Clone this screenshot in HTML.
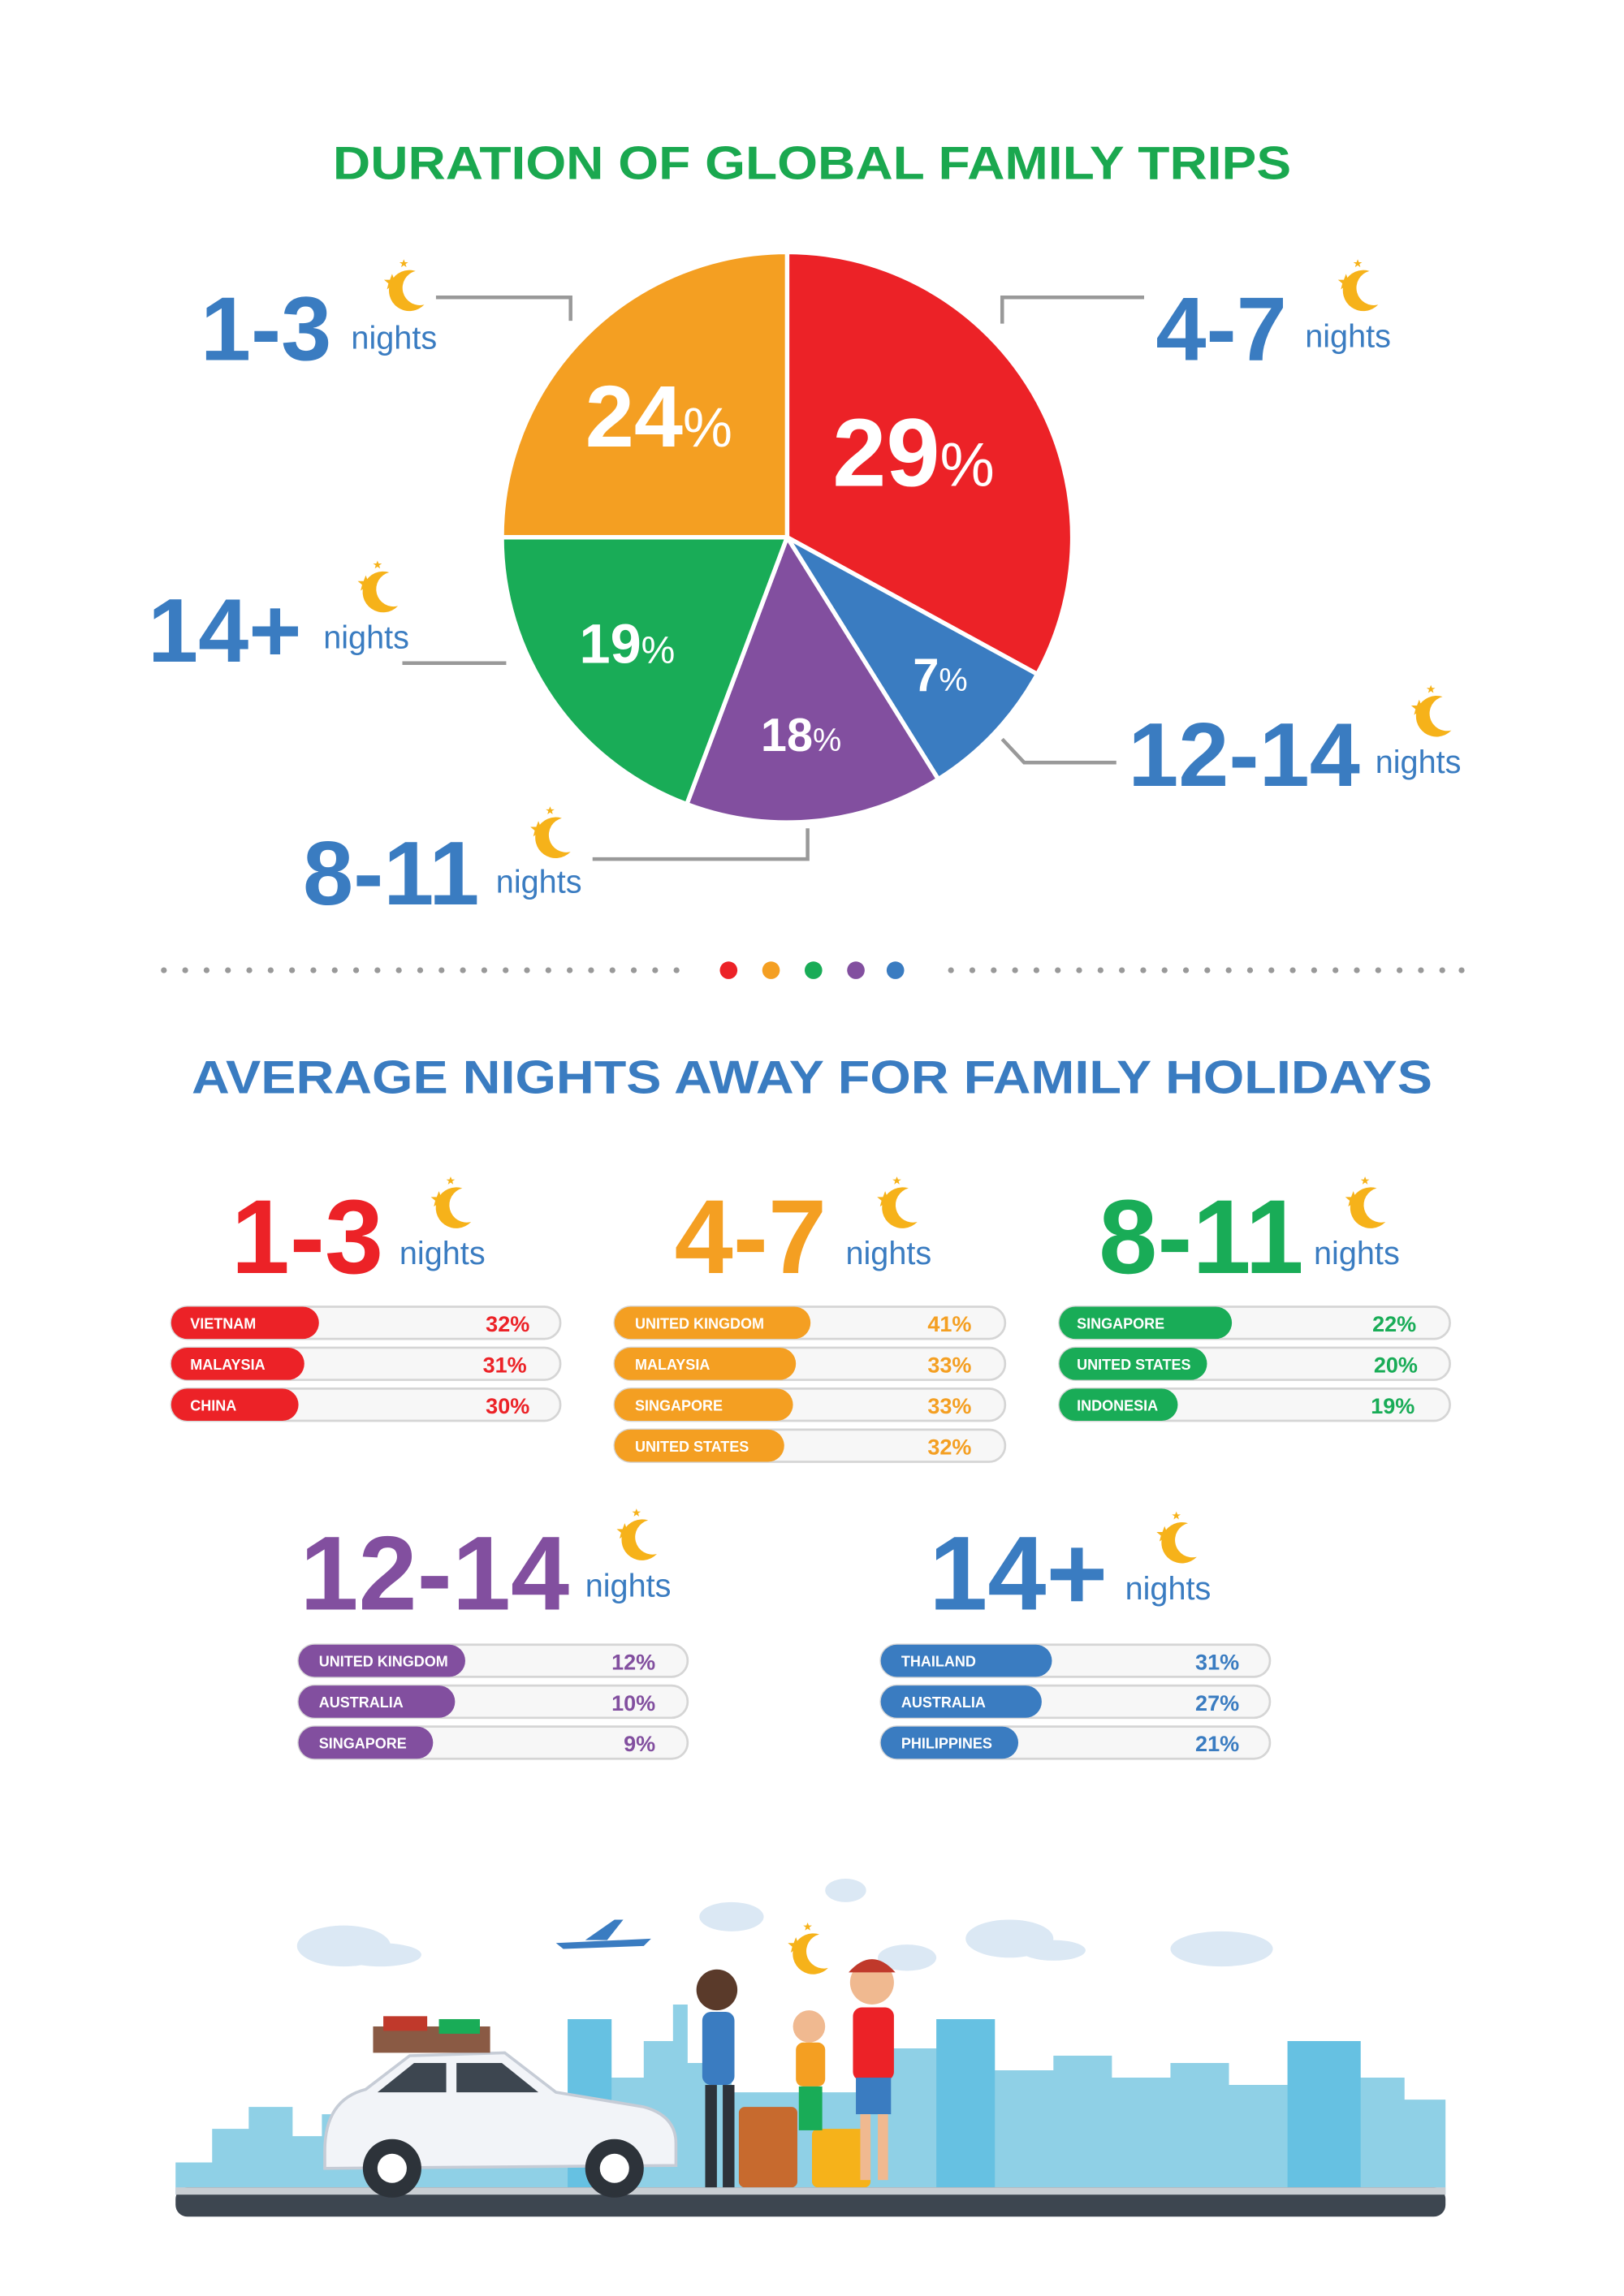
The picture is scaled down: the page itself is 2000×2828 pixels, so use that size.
<!DOCTYPE html>
<html><head><meta charset="utf-8"><style>
html,body{margin:0;padding:0;background:#fff;}
svg{display:block;}
text{font-family:"Liberation Sans",sans-serif;}
</style></head><body>
<svg width="2000" height="2828" viewBox="0 0 1110 1569" xmlns="http://www.w3.org/2000/svg" font-weight="bold">
<defs>
<g id="moon">
<path d="M4,-13 A14,14 0 1,0 10,10 A11,11 0 1,1 4,-13 Z" fill="#f6b21a"/>
<polygon points="-12,-11 -10.5,-7 -6.5,-7 -9.5,-4.5 -8.5,-0.5 -12,-3 -15.5,-0.5 -14.5,-4.5 -17.5,-7 -13.5,-7" fill="#f6b21a"/>
<polygon points="-4,-21 -3.2,-19 -1,-19 -2.8,-17.8 -2.2,-15.6 -4,-16.9 -5.8,-15.6 -5.2,-17.8 -7,-19 -4.8,-19" fill="#f6b21a"/>
</g>
</defs>

<text x="555" y="122" text-anchor="middle" font-size="32" fill="#1aa84f" textLength="655" lengthAdjust="spacingAndGlyphs">DURATION OF GLOBAL FAMILY TRIPS</text>

<g stroke="#fff" stroke-width="3" stroke-linejoin="round">
<path d="M538,367 L538,172 A195,195 0 0,1 709,460.6 Z" fill="#ec2227"/>
<path d="M538,367 L709,460.6 A195,195 0 0,1 641.3,532.4 Z" fill="#3a7cc1"/>
<path d="M538,367 L641.3,532.4 A195,195 0 0,1 469.4,549.5 Z" fill="#824f9f"/>
<path d="M538,367 L469.4,549.5 A195,195 0 0,1 343,367 Z" fill="#19ac57"/>
<path d="M538,367 L343,367 A195,195 0 0,1 538,172 Z" fill="#f49f22"/>
</g>
<text x="569" y="332" font-size="66" fill="#fff">29<tspan font-size="42" font-weight="normal">%</tspan></text>
<text x="400" y="305" font-size="60" fill="#fff">24<tspan font-size="38" font-weight="normal">%</tspan></text>
<text x="396" y="453" font-size="38" fill="#fff">19<tspan font-size="26" font-weight="normal">%</tspan></text>
<text x="624" y="472" font-size="32" fill="#fff">7<tspan font-size="22" font-weight="normal">%</tspan></text>
<text x="520" y="513" font-size="32" fill="#fff">18<tspan font-size="22" font-weight="normal">%</tspan></text>

<g fill="none" stroke="#999" stroke-width="2.5">
<polyline points="298,203 390,203 390,219"/>
<polyline points="782,203 685,203 685,221"/>
<polyline points="275,453 346,453"/>
<polyline points="685,505 700,521 763,521"/>
<polyline points="405,587 552,587 552,566"/>
</g>

<g fill="#3a7cc1">
<text x="137" y="246" font-size="62">1-3</text>
<text x="240" y="238" font-size="22" font-weight="normal">nights</text>
<text x="790" y="246" font-size="62">4-7</text>
<text x="892" y="237" font-size="22" font-weight="normal">nights</text>
<text x="101" y="452" font-size="62">14+</text>
<text x="221" y="443" font-size="22" font-weight="normal">nights</text>
<text x="771" y="537" font-size="62">12-14</text>
<text x="940" y="528" font-size="22" font-weight="normal">nights</text>
<text x="207" y="618" font-size="62">8-11</text>
<text x="339" y="610" font-size="22" font-weight="normal">nights</text>
</g>
<use href="#moon" x="280" y="198"/>
<use href="#moon" x="932" y="198"/>
<use href="#moon" x="262" y="404"/>
<use href="#moon" x="982" y="489"/>
<use href="#moon" x="380" y="572"/>

<g fill="#999">
<circle cx="112" cy="663" r="2"/><circle cx="126.6" cy="663" r="2"/><circle cx="141.2" cy="663" r="2"/><circle cx="155.8" cy="663" r="2"/><circle cx="170.4" cy="663" r="2"/><circle cx="185" cy="663" r="2"/><circle cx="199.6" cy="663" r="2"/><circle cx="214.2" cy="663" r="2"/><circle cx="228.8" cy="663" r="2"/><circle cx="243.4" cy="663" r="2"/><circle cx="258" cy="663" r="2"/><circle cx="272.6" cy="663" r="2"/><circle cx="287.2" cy="663" r="2"/><circle cx="301.8" cy="663" r="2"/><circle cx="316.4" cy="663" r="2"/><circle cx="331" cy="663" r="2"/><circle cx="345.6" cy="663" r="2"/><circle cx="360.2" cy="663" r="2"/><circle cx="374.8" cy="663" r="2"/><circle cx="389.4" cy="663" r="2"/><circle cx="404" cy="663" r="2"/><circle cx="418.6" cy="663" r="2"/><circle cx="433.2" cy="663" r="2"/><circle cx="447.8" cy="663" r="2"/><circle cx="462.4" cy="663" r="2"/>
<circle cx="650" cy="663" r="2"/><circle cx="664.6" cy="663" r="2"/><circle cx="679.2" cy="663" r="2"/><circle cx="693.8" cy="663" r="2"/><circle cx="708.4" cy="663" r="2"/><circle cx="723" cy="663" r="2"/><circle cx="737.6" cy="663" r="2"/><circle cx="752.2" cy="663" r="2"/><circle cx="766.8" cy="663" r="2"/><circle cx="781.4" cy="663" r="2"/><circle cx="796" cy="663" r="2"/><circle cx="810.6" cy="663" r="2"/><circle cx="825.2" cy="663" r="2"/><circle cx="839.8" cy="663" r="2"/><circle cx="854.4" cy="663" r="2"/><circle cx="869" cy="663" r="2"/><circle cx="883.6" cy="663" r="2"/><circle cx="898.2" cy="663" r="2"/><circle cx="912.8" cy="663" r="2"/><circle cx="927.4" cy="663" r="2"/><circle cx="942" cy="663" r="2"/><circle cx="956.6" cy="663" r="2"/><circle cx="971.2" cy="663" r="2"/><circle cx="985.8" cy="663" r="2"/><circle cx="999" cy="663" r="2"/>
</g>
<circle cx="498" cy="663" r="6" fill="#ec2227"/>
<circle cx="527" cy="663" r="6" fill="#f49f22"/>
<circle cx="556" cy="663" r="6" fill="#19ac57"/>
<circle cx="585" cy="663" r="6" fill="#824f9f"/>
<circle cx="612" cy="663" r="6" fill="#3a7cc1"/>

<text x="555" y="747" text-anchor="middle" font-size="32" fill="#3a7cc1" textLength="848" lengthAdjust="spacingAndGlyphs">AVERAGE NIGHTS AWAY FOR FAMILY HOLIDAYS</text>

<text x="158" y="870" font-size="72" fill="#ec2227">1-3</text>
<text x="273" y="864" font-size="22" font-weight="normal" fill="#3a7cc1">nights</text>
<use href="#moon" x="312" y="825"/>
<text x="461" y="870" font-size="72" fill="#f49f22">4-7</text>
<text x="578" y="864" font-size="22" font-weight="normal" fill="#3a7cc1">nights</text>
<use href="#moon" x="617" y="825"/>
<text x="751" y="870" font-size="72" fill="#19ac57">8-11</text>
<text x="898" y="864" font-size="22" font-weight="normal" fill="#3a7cc1">nights</text>
<use href="#moon" x="937" y="825"/>
<text x="205" y="1100" font-size="72" fill="#824f9f">12-14</text>
<text x="400" y="1091" font-size="22" font-weight="normal" fill="#3a7cc1">nights</text>
<use href="#moon" x="439" y="1052"/>
<text x="635" y="1100" font-size="72" fill="#3a7cc1">14+</text>
<text x="769" y="1093" font-size="22" font-weight="normal" fill="#3a7cc1">nights</text>
<use href="#moon" x="808" y="1054"/>

<g>
<rect x="117" y="893" width="266" height="22" rx="11" fill="#f7f7f7" stroke="#d5d5d5" stroke-width="1.5"/>
<rect x="117" y="893" width="101" height="22" rx="11" fill="#ec2227"/>
<text x="130" y="908" font-size="10" fill="#fff">VIETNAM</text>
<text x="362" y="910" font-size="15" fill="#ec2227" text-anchor="end">32%</text>
<rect x="117" y="921" width="266" height="22" rx="11" fill="#f7f7f7" stroke="#d5d5d5" stroke-width="1.5"/>
<rect x="117" y="921" width="91" height="22" rx="11" fill="#ec2227"/>
<text x="130" y="936" font-size="10" fill="#fff">MALAYSIA</text>
<text x="360" y="938" font-size="15" fill="#ec2227" text-anchor="end">31%</text>
<rect x="117" y="949" width="266" height="22" rx="11" fill="#f7f7f7" stroke="#d5d5d5" stroke-width="1.5"/>
<rect x="117" y="949" width="87" height="22" rx="11" fill="#ec2227"/>
<text x="130" y="964" font-size="10" fill="#fff">CHINA</text>
<text x="362" y="966" font-size="15" fill="#ec2227" text-anchor="end">30%</text>

<rect x="420" y="893" width="267" height="22" rx="11" fill="#f7f7f7" stroke="#d5d5d5" stroke-width="1.5"/>
<rect x="420" y="893" width="134" height="22" rx="11" fill="#f49f22"/>
<text x="434" y="908" font-size="10" fill="#fff">UNITED KINGDOM</text>
<text x="664" y="910" font-size="15" fill="#f49f22" text-anchor="end">41%</text>
<rect x="420" y="921" width="267" height="22" rx="11" fill="#f7f7f7" stroke="#d5d5d5" stroke-width="1.5"/>
<rect x="420" y="921" width="124" height="22" rx="11" fill="#f49f22"/>
<text x="434" y="936" font-size="10" fill="#fff">MALAYSIA</text>
<text x="664" y="938" font-size="15" fill="#f49f22" text-anchor="end">33%</text>
<rect x="420" y="949" width="267" height="22" rx="11" fill="#f7f7f7" stroke="#d5d5d5" stroke-width="1.5"/>
<rect x="420" y="949" width="122" height="22" rx="11" fill="#f49f22"/>
<text x="434" y="964" font-size="10" fill="#fff">SINGAPORE</text>
<text x="664" y="966" font-size="15" fill="#f49f22" text-anchor="end">33%</text>
<rect x="420" y="977" width="267" height="22" rx="11" fill="#f7f7f7" stroke="#d5d5d5" stroke-width="1.5"/>
<rect x="420" y="977" width="116" height="22" rx="11" fill="#f49f22"/>
<text x="434" y="992" font-size="10" fill="#fff">UNITED STATES</text>
<text x="664" y="994" font-size="15" fill="#f49f22" text-anchor="end">32%</text>

<rect x="724" y="893" width="267" height="22" rx="11" fill="#f7f7f7" stroke="#d5d5d5" stroke-width="1.5"/>
<rect x="724" y="893" width="118" height="22" rx="11" fill="#19ac57"/>
<text x="736" y="908" font-size="10" fill="#fff">SINGAPORE</text>
<text x="968" y="910" font-size="15" fill="#19ac57" text-anchor="end">22%</text>
<rect x="724" y="921" width="267" height="22" rx="11" fill="#f7f7f7" stroke="#d5d5d5" stroke-width="1.5"/>
<rect x="724" y="921" width="101" height="22" rx="11" fill="#19ac57"/>
<text x="736" y="936" font-size="10" fill="#fff">UNITED STATES</text>
<text x="969" y="938" font-size="15" fill="#19ac57" text-anchor="end">20%</text>
<rect x="724" y="949" width="267" height="22" rx="11" fill="#f7f7f7" stroke="#d5d5d5" stroke-width="1.5"/>
<rect x="724" y="949" width="81" height="22" rx="11" fill="#19ac57"/>
<text x="736" y="964" font-size="10" fill="#fff">INDONESIA</text>
<text x="967" y="966" font-size="15" fill="#19ac57" text-anchor="end">19%</text>

<rect x="204" y="1124" width="266" height="22" rx="11" fill="#f7f7f7" stroke="#d5d5d5" stroke-width="1.5"/>
<rect x="204" y="1124" width="114" height="22" rx="11" fill="#824f9f"/>
<text x="218" y="1139" font-size="10" fill="#fff">UNITED KINGDOM</text>
<text x="448" y="1141" font-size="15" fill="#824f9f" text-anchor="end">12%</text>
<rect x="204" y="1152" width="266" height="22" rx="11" fill="#f7f7f7" stroke="#d5d5d5" stroke-width="1.5"/>
<rect x="204" y="1152" width="107" height="22" rx="11" fill="#824f9f"/>
<text x="218" y="1167" font-size="10" fill="#fff">AUSTRALIA</text>
<text x="448" y="1169" font-size="15" fill="#824f9f" text-anchor="end">10%</text>
<rect x="204" y="1180" width="266" height="22" rx="11" fill="#f7f7f7" stroke="#d5d5d5" stroke-width="1.5"/>
<rect x="204" y="1180" width="92" height="22" rx="11" fill="#824f9f"/>
<text x="218" y="1195" font-size="10" fill="#fff">SINGAPORE</text>
<text x="448" y="1197" font-size="15" fill="#824f9f" text-anchor="end">9%</text>

<rect x="602" y="1124" width="266" height="22" rx="11" fill="#f7f7f7" stroke="#d5d5d5" stroke-width="1.5"/>
<rect x="602" y="1124" width="117" height="22" rx="11" fill="#3a7cc1"/>
<text x="616" y="1139" font-size="10" fill="#fff">THAILAND</text>
<text x="847" y="1141" font-size="15" fill="#3a7cc1" text-anchor="end">31%</text>
<rect x="602" y="1152" width="266" height="22" rx="11" fill="#f7f7f7" stroke="#d5d5d5" stroke-width="1.5"/>
<rect x="602" y="1152" width="110" height="22" rx="11" fill="#3a7cc1"/>
<text x="616" y="1167" font-size="10" fill="#fff">AUSTRALIA</text>
<text x="847" y="1169" font-size="15" fill="#3a7cc1" text-anchor="end">27%</text>
<rect x="602" y="1180" width="266" height="22" rx="11" fill="#f7f7f7" stroke="#d5d5d5" stroke-width="1.5"/>
<rect x="602" y="1180" width="94" height="22" rx="11" fill="#3a7cc1"/>
<text x="616" y="1195" font-size="10" fill="#fff">PHILIPPINES</text>
<text x="847" y="1197" font-size="15" fill="#3a7cc1" text-anchor="end">21%</text>
</g>

<g fill="#dbe8f4">
<ellipse cx="235" cy="1330" rx="32" ry="14"/><ellipse cx="260" cy="1336" rx="28" ry="8"/>
<ellipse cx="500" cy="1310" rx="22" ry="10"/>
<ellipse cx="578" cy="1292" rx="14" ry="8"/>
<ellipse cx="690" cy="1325" rx="30" ry="13"/><ellipse cx="720" cy="1333" rx="22" ry="7"/>
<ellipse cx="835" cy="1332" rx="35" ry="12"/>
<ellipse cx="620" cy="1338" rx="20" ry="9"/>
</g>
<path d="M380,1328 L445,1325 L440,1330 L385,1332Z M400,1326 L420,1312 L426,1312 L415,1326Z" fill="#3a7cc1"/>
<path d="M120,1500 L120,1478 L145,1478 L145,1455 L170,1455 L170,1440 L200,1440 L200,1460 L220,1460 L220,1445 L250,1445 L250,1470 L290,1470 L290,1440 L330,1440 L330,1420 L365,1420 L365,1450 L388,1450 L388,1380 L418,1380 L418,1420 L440,1420 L440,1395 L460,1395 L460,1370 L470,1370 L470,1410 L500,1410 L500,1430 L600,1430 L600,1400 L640,1400 L640,1380 L680,1380 L680,1415 L720,1415 L720,1405 L760,1405 L760,1420 L800,1420 L800,1410 L840,1410 L840,1425 L880,1425 L880,1395 L930,1395 L930,1420 L960,1420 L960,1435 L988,1435 L988,1500 Z" fill="#8fd0e6"/>
<path d="M388,1380 h30 v120 h-30z M640,1380 h40 v120 h-40z M880,1395 h50 v105 h-50z" fill="#4bb8e0" opacity="0.6"/>
<rect x="120" y="1495" width="868" height="20" rx="8" fill="#3d4650"/>
<rect x="120" y="1495" width="868" height="5" fill="#c9ced3"/>
<path d="M222,1470 Q222,1435 250,1428 L280,1405 L345,1403 L380,1430 L440,1440 Q462,1446 462,1465 L462,1480 L222,1482 Z" fill="#f2f4f8" stroke="#c6ccd6" stroke-width="2"/>
<path d="M258,1430 L283,1410 L305,1410 L305,1430 Z M312,1410 L343,1410 L368,1430 L312,1430 Z" fill="#3d4650"/>
<rect x="255" y="1385" width="80" height="18" fill="#8a5a44"/>
<rect x="262" y="1378" width="30" height="10" fill="#c0392b"/>
<rect x="300" y="1380" width="28" height="10" fill="#19ac57"/>
<circle cx="268" cy="1482" r="20" fill="#2d333a"/><circle cx="268" cy="1482" r="10" fill="#fff"/>
<circle cx="420" cy="1482" r="20" fill="#2d333a"/><circle cx="420" cy="1482" r="10" fill="#fff"/>
<rect x="505" y="1440" width="40" height="55" rx="4" fill="#c76a2e"/>
<rect x="555" y="1455" width="40" height="40" rx="4" fill="#f6b21a"/>
<circle cx="490" cy="1360" r="14" fill="#5a3a2a"/>
<rect x="480" y="1375" width="22" height="50" rx="6" fill="#3a7cc1"/>
<rect x="482" y="1425" width="8" height="70" fill="#2d333a"/><rect x="494" y="1425" width="8" height="70" fill="#2d333a"/>
<circle cx="596" cy="1355" r="15" fill="#f0b990"/>
<path d="M580,1348 Q596,1330 612,1348 Z" fill="#c0392b"/>
<rect x="583" y="1372" width="28" height="50" rx="6" fill="#ec2227"/>
<rect x="585" y="1420" width="24" height="25" fill="#3a7cc1"/>
<rect x="588" y="1445" width="7" height="45" fill="#f0b990"/><rect x="600" y="1445" width="7" height="45" fill="#f0b990"/>
<circle cx="553" cy="1385" r="11" fill="#f0b990"/>
<rect x="544" y="1396" width="20" height="30" rx="5" fill="#f49f22"/>
<rect x="546" y="1426" width="16" height="30" fill="#19ac57"/>
<use href="#moon" x="556" y="1335"/>
</svg>
</body></html>
